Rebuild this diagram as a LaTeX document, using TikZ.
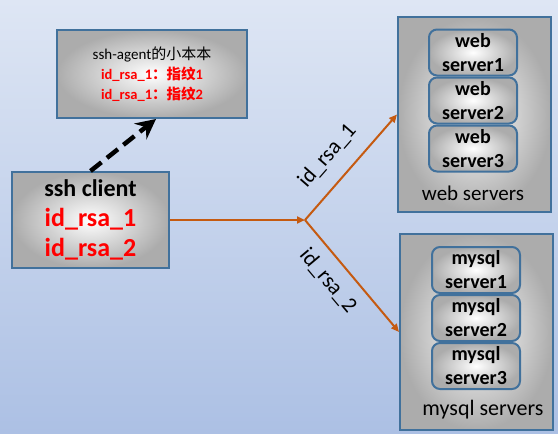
\documentclass[tikz,border=0pt]{standalone}
\usepackage{fontspec}
\setmainfont{Carlito}
\newfontfamily\cjk{Noto Sans CJK SC}
\usetikzlibrary{arrows.meta,positioning}
\definecolor{edgeblue}{RGB}{65,113,156}
\definecolor{keyorange}{RGB}{197,90,17}
\definecolor{keyred}{RGB}{255,0,0}
\definecolor{boxgray}{RGB}{172,172,172}
\definecolor{skytop}{RGB}{222,230,244}
\definecolor{skybottom}{RGB}{172,192,228}
\begin{document}
\begin{tikzpicture}[x=1pt,y=-1pt]
\tikzset{
    panel/.style={draw=edgeblue, line width=2pt, inner sep=0pt, shading=radial, inner color=white, outer color=boxgray},
    group/.style={panel, anchor=north west},
    server/.style={panel, rounded corners=8pt, minimum width=88pt, minimum height=46pt, align=center, font=\fontsize{20}{24}\selectfont\bfseries},
    key/.style={draw=keyorange, line width=2pt, -{Triangle[length=8pt,width=7pt]}},
    keylabel/.style={sloped, font=\fontsize{22}{24}\selectfont},
}
% background
\fill[top color=skytop, bottom color=skybottom] (0,0) rectangle (558,434);
\useasboundingbox (0,0) rectangle (558,434);

% the two server groups
\node[group, minimum width=153pt, minimum height=195pt] (webgroup) at (397,16) {};
\node[group, minimum width=153pt, minimum height=196pt] (mysqlgroup) at (399,233) {};
\node[font=\fontsize{21}{24}\selectfont] (weblabel) at (473,193) {web servers};
\node[font=\fontsize{22}{24}\selectfont] (mysqllabel) at (483,410) {mysql servers};

\node[server] (web1) at (473,52.5) {web\\server1};
\node[server, below=0pt of web1] (web2) {web\\server2};
\node[server, below=0pt of web2] (web3) {web\\server3};

\node[server] (mysql1) at (476,270) {mysql\\server1};
\node[server, below=0pt of mysql1] (mysql2) {mysql\\server2};
\node[server, below=0pt of mysql2] (mysql3) {mysql\\server3};

% client and agent
\node[panel, minimum width=157pt, minimum height=96pt, align=center, font=\fontsize{26}{30}\selectfont\bfseries] (client) at (90.5,220)
    {{\fontsize{24}{30}\selectfont ssh client}\\ \textcolor{keyred}{id\_rsa\_1}\\ \textcolor{keyred}{id\_rsa\_2}};
\node[panel, minimum width=190pt, minimum height=88pt, align=center, font=\fontsize{15}{20}\selectfont] (agent) at (152,74)
    {ssh-agent{\cjk 的小本本}\\
     {\fontsize{14.5}{20}\selectfont\color{keyred}\bfseries id\_rsa\_1{\cjk ：指纹}1}\\
     {\fontsize{14.5}{20}\selectfont\color{keyred}\bfseries id\_rsa\_1{\cjk ：指纹}2}};

% keys
\coordinate (hub) at (305,220);
\draw[key] (client) -- (hub);
\draw[key] (hub) -- node[keylabel, above=12pt, pos=0.45] {id\_rsa\_1} (webgroup.west);
\draw[key] (hub) -- node[keylabel, below=8pt, pos=0.42] {id\_rsa\_2} (mysqlgroup.west);

\draw[line width=4.5pt, dash pattern=on 14pt off 7pt, -{Stealth[length=20pt,width=20pt,inset=7pt]}] (client.north) -- ([xshift=4pt]agent.south);
\end{tikzpicture}
\end{document}
